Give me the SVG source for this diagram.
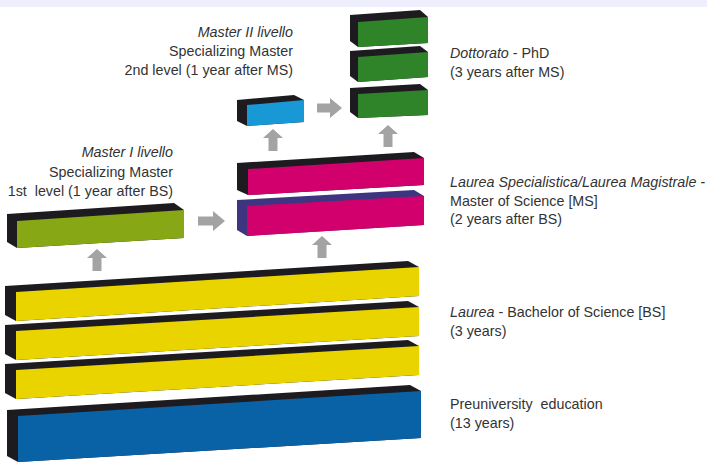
<svg xmlns="http://www.w3.org/2000/svg" width="707" height="464" viewBox="0 0 707 464">
<style>
.sh{fill:#1d1b1f}
.pu{fill:#3e3580}
.ye{fill:#e9d400}
.bl{fill:#0961a6}
.li{fill:#87a814}
.gr{fill:#2f8429}
.cy{fill:#1899d6}
.ma{fill:#d1006d}
.arr{fill:#a3a3a3}
text{font-family:"Liberation Sans",Arial,sans-serif;font-size:14.3px;fill:#333}
.it{font-style:italic}
</style>
<rect x="0" y="0" width="707" height="7" fill="#efeefc"/>

<g id="connectors">
  <polygon class="arr" points="97,249 107,258 101.5,258 101.5,271 92.5,271 92.5,258 87,258"/>
  <polygon class="arr" points="322,236 332,245 326.5,245 326.5,258 317.5,258 317.5,245 312,245"/>
  <polygon class="arr" points="273,129 283,138 277.5,138 277.5,151 268.5,151 268.5,138 263,138"/>
  <polygon class="arr" points="388,125 398,134 392.5,134 392.5,147 383.5,147 383.5,134 378,134"/>
  <polygon class="arr" points="225,221 213,211 213,216.5 198,216.5 198,225.5 213,225.5 213,231"/>
  <polygon class="arr" points="342,108 330,98 330,103.5 317,103.5 317,112.5 330,112.5 330,118"/>
</g>

<g id="preuniversity">
  <polygon class="sh" points="7,410 410,385 421,391 421,438 18,462 7,456"/>
  <polygon class="bl" points="18,416 421,391 421,438 18,462"/>
  <text x="450" y="409" xml:space="preserve">Preuniversity  education</text>
  <text x="450" y="428">(13 years)</text>
</g>

<g id="laurea-year3">
  <polygon class="sh" points="5,364 408,340 419,346 419,375 16,399 5,393"/>
  <polygon class="ye" points="16,370 419,346 419,375 16,399"/>
</g>
<g id="laurea-year2">
  <polygon class="sh" points="5,325 408,301 419,307 419,336 16,360 5,354"/>
  <polygon class="ye" points="16,331 419,307 419,336 16,360"/>
</g>
<g id="laurea-year1">
  <polygon class="sh" points="5,286 408,261 419,267 419,296 16,321 5,315"/>
  <polygon class="ye" points="16,292 419,267 419,296 16,321"/>
  <text x="450" y="317"><tspan class="it">Laurea</tspan> - Bachelor of Science [BS]</text>
  <text x="450" y="336">(3 years)</text>
</g>

<g id="master-1">
  <polygon class="sh" points="7,214 174,203 184,210 184,238 17,248 7,242"/>
  <polygon class="li" points="17,221 184,210 184,238 17,248"/>
  <text x="173" y="157" text-anchor="end" class="it">Master I livello</text>
  <text x="173" y="177" text-anchor="end">Specializing Master</text>
  <text x="173" y="196" text-anchor="end" xml:space="preserve">1st  level (1 year after BS)</text>
</g>

<g id="ms-year1">
  <polygon class="pu" points="237,200 414,190 424,196 424,225 247,236 237,230"/>
  <polygon class="ma" points="247,206 424,196 424,225 247,236"/>
</g>
<g id="ms-year2">
  <polygon class="sh" points="237,163 414,152 424,158 424,185 248,195 237,190"/>
  <polygon class="ma" points="248,169 424,158 424,185 248,195"/>
  <text x="450" y="187" class="it">Laurea Specialistica/Laurea Magistrale -</text>
  <text x="450" y="206">Master of Science [MS]</text>
  <text x="450" y="224">(2 years after BS)</text>
</g>

<g id="master-2">
  <polygon class="sh" points="237,100 294,95 304,100 304,122 247,126 237,121"/>
  <polygon class="cy" points="247,105 304,100 304,122 247,126"/>
  <text x="293" y="37" text-anchor="end" class="it">Master II livello</text>
  <text x="293" y="56" text-anchor="end">Specializing Master</text>
  <text x="293" y="75" text-anchor="end">2nd level (1 year after MS)</text>
</g>

<g id="phd-year1">
  <polygon class="sh" points="350,88 420,84 428,90 428,115 358,118 350,112"/>
  <polygon class="gr" points="358,94 428,90 428,115 358,118"/>
</g>
<g id="phd-year2">
  <polygon class="sh" points="350,51 420,46 428,52 428,77 358,82 350,76"/>
  <polygon class="gr" points="358,57 428,52 428,77 358,82"/>
</g>
<g id="phd-year3">
  <polygon class="sh" points="350,15 420,10 428,17 428,43 358,47 350,41"/>
  <polygon class="gr" points="358,22 428,17 428,43 358,47"/>
  <text x="450" y="58"><tspan class="it">Dottorato</tspan> - PhD</text>
  <text x="450" y="77">(3 years after MS)</text>
</g>
</svg>
